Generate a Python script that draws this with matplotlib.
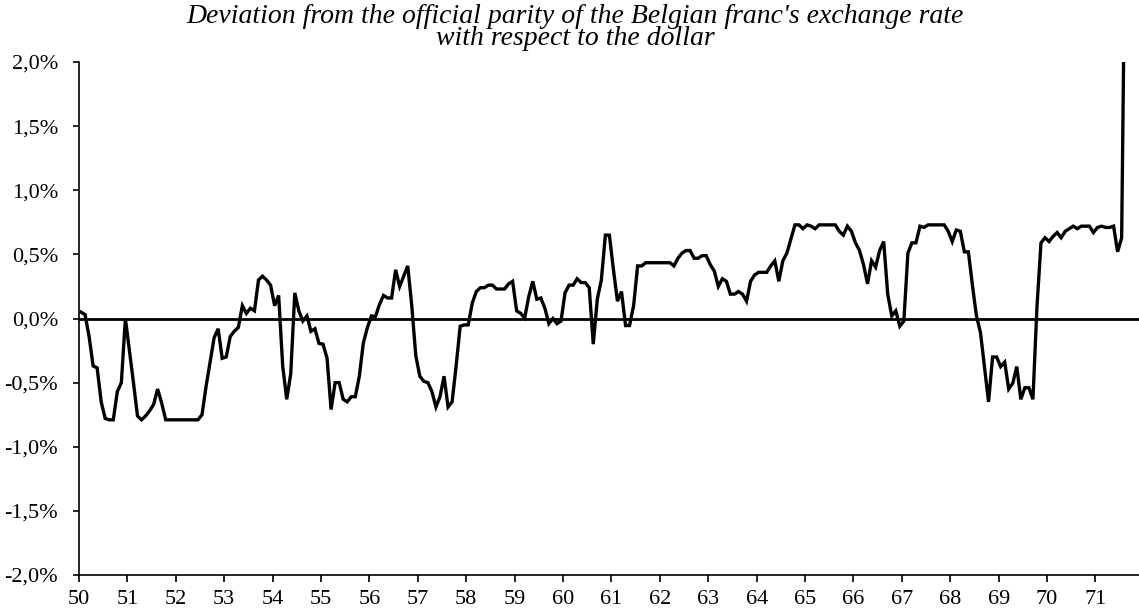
import numpy as np
import matplotlib
matplotlib.use("Agg")
import matplotlib.pyplot as plt
from matplotlib.ticker import FuncFormatter

# monthly deviation (%) from official parity, Jan 1950 .. Aug 1971
deviation = [
    0.05, 0.03, -0.14, -0.37, -0.385, -0.65, -0.78, -0.79, -0.79, -0.57, -0.50, 0.0,
    -0.25, -0.50, -0.76, -0.79, -0.76, -0.72, -0.67, -0.55, -0.66, -0.79, -0.79, -0.79,
    -0.79, -0.79, -0.79, -0.79, -0.79, -0.79, -0.75, -0.53, -0.34, -0.15, -0.08, -0.31,
    -0.30, -0.14, -0.10, -0.07, 0.10, 0.04, 0.08, 0.06, 0.30, 0.33, 0.30, 0.26,
    0.10, 0.18, -0.37, -0.63, -0.43, 0.20, 0.06, -0.02, 0.02, -0.10, -0.08, -0.195,
    -0.20, -0.31, -0.71, -0.50, -0.50, -0.63, -0.65, -0.61, -0.61, -0.45, -0.19, -0.07,
    0.02, 0.015, 0.11, 0.18, 0.16, 0.16, 0.38, 0.25, 0.33, 0.41, 0.10, -0.29,
    -0.45, -0.49, -0.50, -0.57, -0.69, -0.61, -0.45, -0.69, -0.65, -0.37, -0.06, -0.05,
    -0.05, 0.12, 0.21, 0.24, 0.24, 0.26, 0.26, 0.23, 0.23, 0.23, 0.27, 0.29,
    0.06, 0.04, 0.005, 0.17, 0.29, 0.15, 0.16, 0.08, -0.04, 0.0, -0.04, -0.02,
    0.20, 0.26, 0.26, 0.31, 0.28, 0.28, 0.24, -0.20, 0.15, 0.30, 0.65, 0.65,
    0.38, 0.135, 0.21, -0.055, -0.055, 0.10, 0.41, 0.41, 0.435, 0.435, 0.435, 0.435,
    0.435, 0.435, 0.435, 0.41, 0.47, 0.51, 0.53, 0.53, 0.47, 0.47, 0.49, 0.49,
    0.42, 0.37, 0.25, 0.31, 0.29, 0.19, 0.19, 0.21, 0.19, 0.135, 0.29, 0.34,
    0.36, 0.36, 0.36, 0.41, 0.45, 0.29, 0.45, 0.51, 0.62, 0.73, 0.73, 0.70,
    0.73, 0.72, 0.70, 0.73, 0.73, 0.73, 0.73, 0.73, 0.68, 0.65, 0.72, 0.68,
    0.59, 0.53, 0.42, 0.27, 0.45, 0.40, 0.53, 0.60, 0.19, 0.02, 0.06, -0.06,
    -0.02, 0.51, 0.59, 0.59, 0.72, 0.71, 0.73, 0.73, 0.73, 0.73, 0.73, 0.68,
    0.60, 0.69, 0.68, 0.52, 0.52, 0.26, 0.02, -0.11, -0.38, -0.65, -0.30, -0.30,
    -0.375, -0.34, -0.55, -0.505, -0.375, -0.63, -0.54, -0.54, -0.63, 0.09, 0.59, 0.63,
    0.60, 0.64, 0.67, 0.63, 0.68, 0.70, 0.72, 0.70, 0.72, 0.72, 0.72, 0.67,
    0.71, 0.72, 0.71, 0.71, 0.72, 0.52, 0.63, 3.5,
]
start_year = 50
year_ticks = list(range(50, 72))
y_ticks = [-2.0, -1.5, -1.0, -0.5, 0.0, 0.5, 1.0, 1.5, 2.0]
title = ("Deviation from the official parity of the Belgian franc's exchange rate\n"
         "with respect to the dollar")

plt.rcParams['font.family'] = ['Liberation Serif', 'DejaVu Serif']

months = np.arange(len(deviation))
x = start_year + (months + 0.5) / 12.0

fig = plt.figure(figsize=(11.39, 6.10), dpi=100)
ax = fig.add_axes([79 / 1139, 35 / 610, 1060 / 1139, 513 / 610])

ax.axhline(0, color='black', lw=2.0, zorder=2)
ax.plot(x, deviation, color='black', lw=2.4, solid_joinstyle='miter', zorder=3)

ax.set_xlim(50, 71.9)
ax.set_ylim(-2.0, 2.0)
ax.set_xticks(year_ticks)
ax.set_xticklabels([str(y) for y in year_ticks])
ax.set_yticks(y_ticks)
ax.yaxis.set_major_formatter(FuncFormatter(lambda v, p: f"{v:.1f}%".replace('.', ',')))

for s in ['top', 'right']:
    ax.spines[s].set_visible(False)
for s in ['left', 'bottom']:
    ax.spines[s].set_linewidth(1.2)
ax.tick_params(axis='x', direction='out', length=5, width=1.2, labelsize=16, pad=6)
ax.tick_params(axis='y', direction='out', length=4, width=1.2, labelsize=16, pad=11)

fig.text(575 / 1139, 1 - 4 / 610, title, ha='center', va='top', fontsize=20,
         style='italic', linespacing=0.85)

fig.savefig('out.png', dpi=100)
